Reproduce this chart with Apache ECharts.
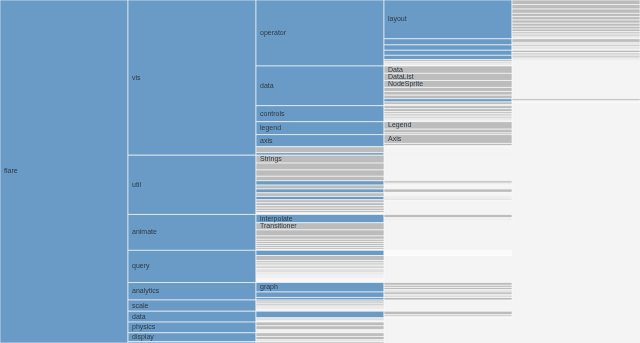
<!DOCTYPE html>
<html>
<head>
<meta charset="utf-8">
<script src="https://cdn.jsdelivr.net/npm/echarts@6/dist/echarts.min.js"></script>
<style>
  html, body { margin: 0; padding: 0; background: #f4f4f4; }
  #chart { width: 640px; height: 343px; }
</style>
</head>
<body>
<div id="chart"></div>
<script>
// flare package sizes, one list per top-level package: [path, size]
const analytics = [
  ['cluster/AgglomerativeCluster', 3938], ['cluster/CommunityStructure', 3812],
  ['cluster/HierarchicalCluster', 6714], ['cluster/MergeEdge', 743],
  ['graph/BetweennessCentrality', 3534], ['graph/LinkDistance', 5731],
  ['graph/MaxFlowMinCut', 7840], ['graph/ShortestPaths', 5914], ['graph/SpanningTree', 3416],
  ['optimization/AspectRatioBanker', 7074]
]
const animate = [
  ['Easing', 17010], ['FunctionSequence', 5842],
  ['interpolate/ArrayInterpolator', 1983], ['interpolate/ColorInterpolator', 2047],
  ['interpolate/DateInterpolator', 1375], ['interpolate/Interpolator', 8746],
  ['interpolate/MatrixInterpolator', 2202], ['interpolate/NumberInterpolator', 1382],
  ['interpolate/ObjectInterpolator', 1629], ['interpolate/PointInterpolator', 1675],
  ['interpolate/RectangleInterpolator', 2042],
  ['ISchedulable', 1041], ['Parallel', 5176], ['Pause', 449], ['Scheduler', 5593],
  ['Sequence', 5534], ['Transition', 9201], ['Transitioner', 19975],
  ['TransitionEvent', 1116], ['Tween', 6006]
]
const data = [
  ['converters/Converters', 721], ['converters/DelimitedTextConverter', 4294],
  ['converters/GraphMLConverter', 9800], ['converters/IDataConverter', 1314],
  ['converters/JSONConverter', 2220],
  ['DataField', 1759], ['DataSchema', 2165], ['DataSet', 586], ['DataSource', 3331],
  ['DataTable', 772], ['DataUtil', 3322]
]
const display = [
  ['DirtySprite', 8833], ['LineSprite', 1732], ['RectSprite', 3623], ['TextSprite', 10066]
]
const flex = [
  ['FlareVis', 4116]
]
const physics = [
  ['DragForce', 1082], ['GravityForce', 1336], ['IForce', 319], ['NBodyForce', 10498],
  ['Particle', 2822], ['Simulation', 9983], ['Spring', 2213], ['SpringForce', 1681]
]
const query = [
  ['AggregateExpression', 1616], ['And', 1027], ['Arithmetic', 3891], ['Average', 891],
  ['BinaryExpression', 2893], ['Comparison', 5103], ['CompositeExpression', 3677],
  ['Count', 781], ['DateUtil', 4141], ['Distinct', 933], ['Expression', 5130],
  ['ExpressionIterator', 3617], ['Fn', 3240], ['If', 2732], ['IsA', 2039],
  ['Literal', 1214], ['Match', 3748], ['Maximum', 843],
  ['methods/add', 593], ['methods/and', 330], ['methods/average', 287], ['methods/count', 277],
  ['methods/distinct', 292], ['methods/div', 595], ['methods/eq', 594], ['methods/fn', 460],
  ['methods/gt', 603], ['methods/gte', 625], ['methods/iff', 748], ['methods/isa', 461],
  ['methods/lt', 597], ['methods/lte', 619], ['methods/max', 283], ['methods/min', 283],
  ['methods/mod', 591], ['methods/mul', 603], ['methods/neq', 599], ['methods/not', 386],
  ['methods/or', 323], ['methods/orderby', 307], ['methods/range', 772], ['methods/select', 296],
  ['methods/stddev', 363], ['methods/sub', 600], ['methods/sum', 280], ['methods/update', 307],
  ['methods/variance', 335], ['methods/where', 299], ['methods/xor', 354], ['methods/_', 264],
  ['Minimum', 843], ['Not', 1554], ['Or', 970], ['Query', 13896], ['Range', 1594],
  ['StringUtil', 4130], ['Sum', 791], ['Variable', 1124], ['Variance', 1876], ['Xor', 1101]
]
const scale = [
  ['IScaleMap', 2105], ['LinearScale', 1316], ['LogScale', 3151], ['OrdinalScale', 3770],
  ['QuantileScale', 2435], ['QuantitativeScale', 4839], ['RootScale', 1756],
  ['Scale', 4268], ['ScaleType', 1821], ['TimeScale', 5833]
]
const util = [
  ['Arrays', 8258], ['Colors', 10001], ['Dates', 8217], ['Displays', 12555],
  ['Filter', 2324], ['Geometry', 10993],
  ['heap/FibonacciHeap', 9354], ['heap/HeapNode', 1233],
  ['IEvaluable', 335], ['IPredicate', 383], ['IValueProxy', 874],
  ['math/DenseMatrix', 3165], ['math/IMatrix', 2815], ['math/SparseMatrix', 3366],
  ['Maths', 17705], ['Orientation', 1486],
  ['palette/ColorPalette', 6367], ['palette/Palette', 1229],
  ['palette/ShapePalette', 2059], ['palette/SizePalette', 2291],
  ['Property', 5559], ['Shapes', 19118], ['Sort', 6887], ['Stats', 6557], ['Strings', 22026]
]
const vis = [
  ['axis/Axes', 1302], ['axis/Axis', 24593], ['axis/AxisGridLine', 652],
  ['axis/AxisLabel', 636], ['axis/CartesianAxes', 6703],
  ['controls/AnchorControl', 2138], ['controls/ClickControl', 3824], ['controls/Control', 1353],
  ['controls/ControlList', 4665], ['controls/DragControl', 2649], ['controls/ExpandControl', 2832],
  ['controls/HoverControl', 4896], ['controls/IControl', 763], ['controls/PanZoomControl', 5222],
  ['controls/SelectionControl', 7862], ['controls/TooltipControl', 8435],
  ['data/Data', 20544], ['data/DataList', 19788], ['data/DataSprite', 10349],
  ['data/EdgeSprite', 3301], ['data/NodeSprite', 19382],
  ['data/render/ArrowType', 698], ['data/render/EdgeRenderer', 5569],
  ['data/render/IRenderer', 353], ['data/render/ShapeRenderer', 2247],
  ['data/ScaleBinding', 11275], ['data/Tree', 7147], ['data/TreeBuilder', 9930],
  ['events/DataEvent', 2313], ['events/SelectionEvent', 1880],
  ['events/TooltipEvent', 1701], ['events/VisualizationEvent', 1117],
  ['legend/Legend', 20859], ['legend/LegendItem', 4614], ['legend/LegendRange', 10530],
  ['operator/distortion/BifocalDistortion', 4461], ['operator/distortion/Distortion', 6314],
  ['operator/distortion/FisheyeDistortion', 3444],
  ['operator/encoder/ColorEncoder', 3179], ['operator/encoder/Encoder', 4060],
  ['operator/encoder/PropertyEncoder', 4138], ['operator/encoder/ShapeEncoder', 1690],
  ['operator/encoder/SizeEncoder', 1830],
  ['operator/filter/FisheyeTreeFilter', 5219], ['operator/filter/GraphDistanceFilter', 3165],
  ['operator/filter/VisibilityFilter', 3509],
  ['operator/IOperator', 1286],
  ['operator/label/Labeler', 9956], ['operator/label/RadialLabeler', 3899],
  ['operator/label/StackedAreaLabeler', 3202],
  ['operator/layout/AxisLayout', 6725], ['operator/layout/BundledEdgeRouter', 3727],
  ['operator/layout/CircleLayout', 9317], ['operator/layout/CirclePackingLayout', 12003],
  ['operator/layout/DendrogramLayout', 4853], ['operator/layout/ForceDirectedLayout', 8411],
  ['operator/layout/IcicleTreeLayout', 4864], ['operator/layout/IndentedTreeLayout', 3174],
  ['operator/layout/Layout', 7881], ['operator/layout/NodeLinkTreeLayout', 12870],
  ['operator/layout/PieLayout', 2728], ['operator/layout/RadialTreeLayout', 12348],
  ['operator/layout/RandomLayout', 870], ['operator/layout/StackedAreaLayout', 9121],
  ['operator/layout/TreeMapLayout', 9191],
  ['operator/Operator', 2490], ['operator/OperatorList', 5248],
  ['operator/OperatorSequence', 4190], ['operator/OperatorSwitch', 2581],
  ['operator/SortOperator', 2023],
  ['Visualization', 16540]
]

const packages = { analytics, animate, data, display, flex, physics, query, scale, util, vis }

// build the tree from the paths
const root = { name: 'flare', children: [] }
for (const pkg in packages) {
  for (const [path, size] of packages[pkg]) {
    const parts = [pkg].concat(path.split('/'))
    let node = root
    parts.forEach((part, i) => {
      let child = node.children.find((c) => c.name === part)
      if (!child) {
        child = { name: part }
        if (i < parts.length - 1) child.children = []
        else child.size = size
        node.children.push(child)
      }
      node = child
    })
  }
}

const sumTree = (node) => {
  if (!node.children) {
    node.value = node.size
    return node.value
  }
  node.value = node.children.reduce((s, c) => s + sumTree(c), 0)
  node.children.sort((a, b) => b.value - a.value)
  return node.value
}
const total = sumTree(root)

// partition: depth along x, cumulative value along y
const nodes = []
const layout = (node, depth, start) => {
  nodes.push({ name: node.name, depth, y0: start, y1: start + node.value, leaf: !node.children })
  if (node.children) {
    let s = start
    node.children.forEach((c) => {
      layout(c, depth + 1, s)
      s += c.value
    })
  }
}
layout(root, 0, 0)

const chart = echarts.init(document.getElementById('chart'))

const renderItem = (params, api) => {
  const n = nodes[params.dataIndex]
  const p0 = api.coord([api.value(0), api.value(1)])
  const p1 = api.coord([api.value(0) + 1, api.value(2)])
  const w = p1[0] - p0[0]
  const h = p1[1] - p0[1]
  const children = [{
    type: 'rect',
    shape: { x: p0[0], y: p0[1], width: w, height: h },
    style: {
      fill: n.leaf ? '#bcbcbc' : '#6a9bc6',
      stroke: 'rgba(255,255,255,0.6)',
      lineWidth: 1
    }
  }]
  if (h >= 6.9) {
    children.push({
      type: 'text',
      style: {
        text: n.name,
        x: p0[0] + 4,
        y: p0[1] + h / 2,
        fill: '#2e3a46',
        font: '7px "Liberation Sans", Arial, sans-serif',
        align: 'left',
        verticalAlign: 'middle'
      }
    })
  }
  return { type: 'group', children }
}

chart.setOption({
  backgroundColor: '#f4f4f4',
  animation: false,
  grid: { left: 0, right: 0, top: 0, bottom: 0 },
  xAxis: { type: 'value', min: 0, max: 5, show: false },
  yAxis: { type: 'value', min: 0, max: total, inverse: true, show: false },
  series: [{
    type: 'custom',
    renderItem,
    encode: { x: 0, y: [1, 2] },
    data: nodes.map((n) => [n.depth, n.y0, n.y1, n.leaf ? 1 : 0])
  }]
})
</script>
</body>
</html>
